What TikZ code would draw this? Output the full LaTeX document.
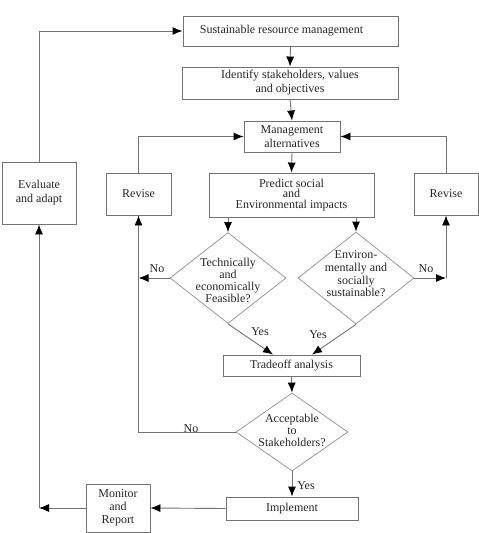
\documentclass[tikz,border=0pt]{standalone}
\usepackage{fontspec}
\setmainfont{Liberation Serif}
\usetikzlibrary{arrows.meta,shapes.geometric}
\begin{document}
\begin{tikzpicture}[x=1pt,y=-1pt,
  font=\fontsize{12}{14}\selectfont,
  box/.style={draw=black!55, line width=0.9pt, rectangle, inner sep=0pt, align=center, text=black!85},
  dia/.style={draw=black!40, line width=0.8pt, diamond, inner sep=0pt},
  ln/.style={draw=black!55, line width=0.9pt},
  arr/.style={ln, -{Latex[length=10pt,width=8pt,color=black]}},
  lab/.style={text=black!85, inner sep=0pt}]
\useasboundingbox (0,0) rectangle (479,533);

\node[box, minimum width=215, minimum height=30] (sus) at (290.5,31) {\hspace*{-18pt}Sustainable resource management};
\node[box, minimum width=216, minimum height=32] (ident) at (290,83) {Identify stakeholders, values\\ and objectives};
\node[box, minimum width=96, minimum height=31] (mgmt) at (292,136.5) {Management\\alternatives};
\node[box, minimum width=65, minimum height=42] (lrev) at (138.5,194) {Revise};
\node[box, minimum width=165, minimum height=44, font=\fontsize{12}{10.5}\selectfont] (pred) at (291.5,195) {Predict social\\and\\Environmental impacts};
\node[box, minimum width=64, minimum height=42] (rrev) at (446,194) {Revise};
\node[box, minimum width=74, minimum height=62] (eval) at (39,193) {Evaluate\\and adapt};

\node[dia, minimum width=116, minimum height=91] (d1) at (228,278) {};
\node[lab, align=center, font=\fontsize{12}{12}\selectfont] at (228,280) {Technically\\and\\economically\\Feasible?};
\node[dia, minimum width=116, minimum height=92] (d2) at (356,278) {};
\node[lab, align=center, font=\fontsize{12}{12.7}\selectfont] at (356,274) {Environ-\\mentally and\\socially\\sustainable?};

\node[box, minimum width=137, minimum height=21] (trade) at (291.5,365.5) {Tradeoff analysis};
\node[dia, minimum width=112, minimum height=78] (acc) at (292,432) {};
\node[lab, align=center, font=\fontsize{12}{12}\selectfont] at (292,430) {Acceptable\\to\\Stakeholders?};
\node[box, minimum width=132, minimum height=23] (impl) at (292,508.5) {Implement};
\node[box, minimum width=64, minimum height=48, font=\fontsize{12}{13}\selectfont] (mon) at (118,508) {Monitor\\and\\Report};

\draw[arr] (sus.south) -- (ident.north);
\draw[arr] (ident.south) -- (mgmt.north);
\draw[arr] (mgmt.south) -- (pred.north);
\draw[arr] (lrev.north) |- (mgmt.west);
\draw[arr] (rrev.north) |- (mgmt.east);
\draw[arr] (d1.north |- pred.south) -- (d1.north);
\draw[arr] (d2.north |- pred.south) -- (d2.north);
\draw[arr] (d1.west) -- (lrev.south |- d1.west);
\draw[arr] (acc.west) -| (lrev.south);
\draw[arr] (d2.east) -- (rrev.south |- d2.east);
\draw[arr] (rrev.south |- d2.east) -- (rrev.south);
\draw[arr] (d1.south) -- ([xshift=-18.5pt]trade.north);
\draw[arr] (d2.south) -- ([xshift=20.5pt]trade.north);
\draw[arr] (trade.south) -- (acc.north);
\draw[arr] (acc.south) -- (impl.north);
\draw[arr] (impl.west) -- (mon.east);
\draw[arr] (mon.west) -- (eval.south |- mon.west);
\draw[arr] (eval.south |- mon.west) -- (eval.south);
\draw[arr] (eval.north) |- (sus.west);

\node[lab] at (157,269) {No};
\node[lab] at (426,269) {No};
\node[lab] at (260,332) {Yes};
\node[lab] at (318,335) {Yes};
\node[lab] at (191,429) {No};
\node[lab] at (306,486) {Yes};
\end{tikzpicture}
\end{document}
